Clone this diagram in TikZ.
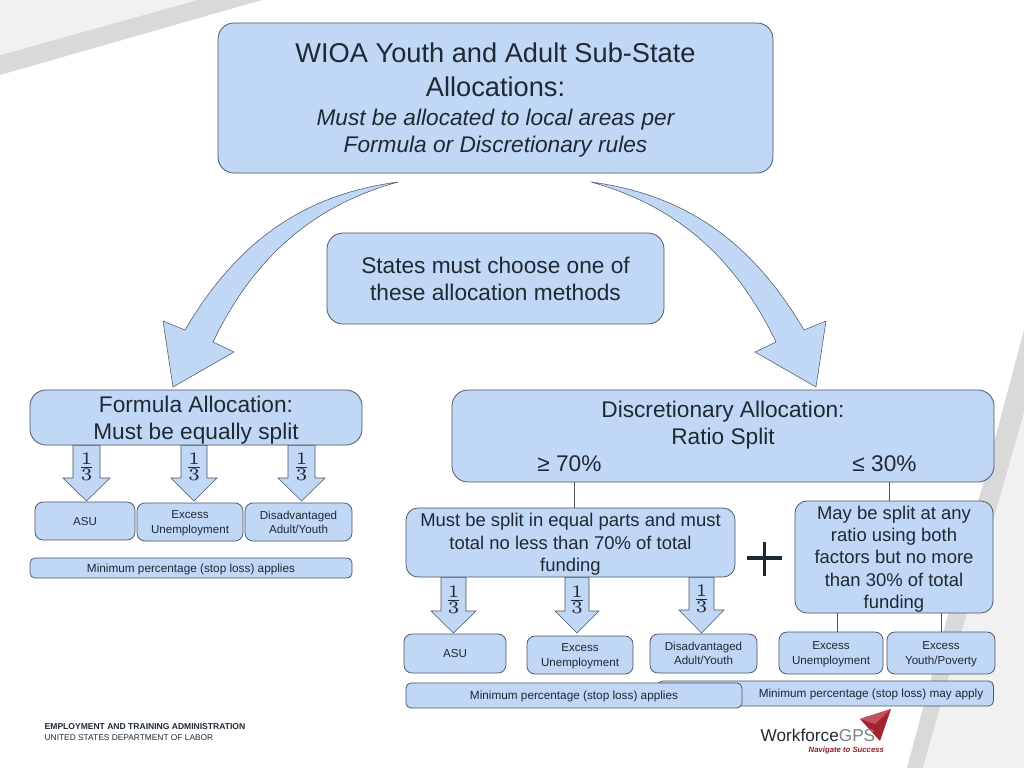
\documentclass[tikz,border=0pt]{standalone}
\usepackage{amsmath}
\usepackage{fontspec}
\setmainfont{Liberation Sans}
\usepackage{xcolor}
\definecolor{boxblue}{HTML}{C0D7F5}
\definecolor{boxedge}{HTML}{4A5560}
\definecolor{inkdark}{HTML}{1F2933}
\definecolor{bandgray}{HTML}{D9D9D9}
\definecolor{bandlight}{HTML}{F1F1F1}
\definecolor{logored}{HTML}{A5232F}
\definecolor{logopale}{HTML}{C4525A}
\tikzset{
	boxbase/.style = {draw = boxedge, fill = boxblue, line width = 0.22pt, text = inkdark, align = center, inner sep = 0pt, rounded corners = #1},
	bigbox/.style = {boxbase = 0.16cm, font = \fontsize{6.45}{7.7}\selectfont},
	midbox/.style = {boxbase = 0.12cm, font = \fontsize{5.25}{6.35}\selectfont},
	smallbox/.style = {boxbase = 0.08cm, font = \fontsize{3.3}{4}\selectfont, text depth = -1.14pt},
	stripbox/.style = {boxbase = 0.05cm, font = \fontsize{3.35}{4}\selectfont, text depth = -0.44pt},
	arrowshape/.style = {draw = boxedge, fill = boxblue, line width = 0.15pt},
	stem/.style = {draw = boxedge, line width = 0.22pt}
}
% straight arrow with a third printed in it
\newcommand{\thirdarrow}[6]{
	\draw[arrowshape] (#1, 0 |- #5.south) -- (#1, #4) -- ({#1 - 0.10}, #4) -- ({(#1 + #2)/2}, #3) -- ({#2 + 0.10}, #4) -- (#2, #4) -- (#2, 0 |- #5.south) -- cycle;
	\node[font = \fontsize{4}{4}\selectfont, text = inkdark, inner sep = 0pt] (#6) at ({(#1 + #2)/2}, {#4 - 0.11}) {$\frac{1}{3}$};
}
\begin{document}
\begin{tikzpicture}[x = 1cm, y = -1cm]
	\useasboundingbox (0,0) rectangle (10.24,7.68);
	% backdrop
	\fill[bandgray] (0,0.55) -- (1.97,0) -- (2.62,0) -- (0,0.75) -- cycle;
	\fill[bandlight] (0,0) -- (1.97,0) -- (0,0.55) -- cycle;
	\fill[bandgray] (10.24,3.30) -- (10.24,4.13) -- (9.23,7.68) -- (9.07,7.68) -- cycle;
	\fill[bandlight] (10.24,4.13) -- (10.24,7.68) -- (9.23,7.68) -- cycle;

	% curved arrows
	\draw[arrowshape] (3.98,1.82) .. controls (3.00,1.95) and (2.35,2.45) .. (1.85,3.30) -- (1.63,3.21) -- (1.73,3.87) -- (2.34,3.52) -- (2.13,3.42) .. controls (2.55,2.55) and (3.15,2.05) .. (3.98,1.82) -- cycle;
	\draw[arrowshape] (5.91,1.82) .. controls (6.89,1.95) and (7.54,2.45) .. (8.04,3.30) -- (8.26,3.21) -- (8.16,3.87) -- (7.55,3.52) -- (7.76,3.42) .. controls (7.34,2.55) and (6.74,2.05) .. (5.91,1.82) -- cycle;

	% top boxes
	\node[bigbox, minimum width = 5.55cm, minimum height = 1.50cm, text depth = -1.7pt] (wioa) at (4.955,0.98) {{\fontsize{7.75}{7.7}\selectfont WIOA Youth and Adult Sub-State}\\[2pt]{\fontsize{7.75}{7.7}\selectfont Allocations:}\\[0.5pt]\itshape Must be allocated to local areas per\\\itshape Formula or Discretionary rules};
	\node[bigbox, minimum width = 3.37cm, minimum height = 0.91cm, text depth = -0.57pt] (states) at (4.955,2.785) {States must choose one of\\these allocation methods};

	% formula side
	\node[bigbox, minimum width = 3.32cm, minimum height = 0.55cm, text depth = -2.3pt] (formula) at (1.96,4.175) {Formula Allocation:\\Must be equally split};
	\node[smallbox, minimum width = 1.00cm, minimum height = 0.38cm] (asuL) at (0.85,5.21) {ASU};
	\node[smallbox, minimum width = 1.06cm, minimum height = 0.38cm] (unempL) at (1.90,5.22) {Excess\\Unemployment};
	\node[smallbox, minimum width = 1.07cm, minimum height = 0.38cm] (disadvL) at (2.985,5.22) {Disadvantaged\\Adult/Youth};
	\node[stripbox, minimum width = 3.22cm, minimum height = 0.20cm] (minL) at (1.91,5.68) {Minimum percentage (stop loss) applies};
	\thirdarrow{0.73}{1.00}{5.01}{4.78}{formula}{thirdA}
	\thirdarrow{1.81}{2.07}{5.01}{4.78}{formula}{thirdB}
	\thirdarrow{2.88}{3.15}{5.01}{4.78}{formula}{thirdC}

	% discretionary side
	\node[bigbox, minimum width = 5.42cm, minimum height = 0.92cm, text depth = -0.57pt] (disc) at (7.23,4.36) {Discretionary Allocation:\\Ratio Split\\\hspace*{0.08cm}≥ 70\%\hspace{2.51cm}≤ 30\%};
	\node[midbox, minimum width = 3.29cm, minimum height = 0.69cm, text depth = -2.3pt] (mustsplit) at (5.705,5.425) {Must be split in equal parts and must\\total no less than 70\% of total\\funding};
	\node[midbox, minimum width = 1.98cm, minimum height = 1.12cm, text depth = -1.4pt] (maysplit) at (8.94,5.57) {May be split at any\\ratio using both\\factors but no more\\than 30\% of total\\funding};
	\draw[stem] (5.74,0 |- disc.south) -- (5.74,0 |- mustsplit.north);
	\draw[stem] (8.89,0 |- disc.south) -- (8.89,0 |- maysplit.north);
	\node[smallbox, minimum width = 1.02cm, minimum height = 0.39cm] (asuR) at (4.55,6.535) {ASU};
	\node[smallbox, minimum width = 1.06cm, minimum height = 0.38cm] (unempR) at (5.80,6.55) {Excess\\Unemployment};
	\node[smallbox, minimum width = 1.07cm, minimum height = 0.39cm] (disadvR) at (7.035,6.535) {Disadvantaged\\Adult/Youth};
	\node[smallbox, minimum width = 1.04cm, minimum height = 0.42cm, text depth = -1.7pt] (unempT) at (8.31,6.53) {Excess\\Unemployment};
	\node[smallbox, minimum width = 1.08cm, minimum height = 0.42cm, text depth = -1.7pt] (youth) at (9.41,6.53) {Excess\\Youth/Poverty};
	\draw[stem] (8.37,0 |- maysplit.south) -- (8.37,0 |- unempT.north);
	\draw[stem] (9.41,0 |- maysplit.south) -- (9.41,0 |- youth.north);
	\node[stripbox, minimum width = 3.36cm, minimum height = 0.25cm] (minT) at (8.255,6.935) {\hspace*{0.91cm}Minimum percentage (stop loss) may apply};
	\node[stripbox, minimum width = 3.36cm, minimum height = 0.25cm, text depth = -1pt] (minR) at (5.74,6.955) {Minimum percentage (stop loss) applies};
	\thirdarrow{4.41}{4.66}{6.33}{6.11}{mustsplit}{thirdD}
	\thirdarrow{5.65}{5.89}{6.33}{6.11}{mustsplit}{thirdE}
	\thirdarrow{6.89}{7.14}{6.33}{6.10}{mustsplit}{thirdF}
	\draw[inkdark, line width = 1.1pt] (7.47,5.58) -- (7.82,5.58) (7.645,5.42) -- (7.645,5.76);

	% footer
	\node[anchor = west, inner sep = 0pt, font = \fontsize{2.43}{3}\selectfont\bfseries, text = inkdark] (eta) at (0.44,7.27) {EMPLOYMENT AND TRAINING ADMINISTRATION};
	\node[anchor = west, inner sep = 0pt, font = \fontsize{2.38}{3}\selectfont, text = inkdark] (usdol) at (0.44,7.375) {UNITED STATES DEPARTMENT OF LABOR};
	\fill[logored] (8.91,7.09) -- (8.60,7.19) -- (8.80,7.41) -- cycle;
	\fill[logopale] (8.91,7.09) -- (8.60,7.19) -- (8.75,7.24) -- cycle;
	\node[anchor = west, inner sep = 0pt, font = \fontsize{4.9}{6}\selectfont, text = inkdark] (logo) at (7.60,7.35) {Workforce\textcolor{gray}{GPS}};
	\node[anchor = west, inner sep = 0pt, font = \fontsize{2.2}{3}\selectfont\bfseries\itshape, text = logored!85!black] (tagline) at (8.08,7.50) {Navigate to Success};
\end{tikzpicture}
\end{document}
